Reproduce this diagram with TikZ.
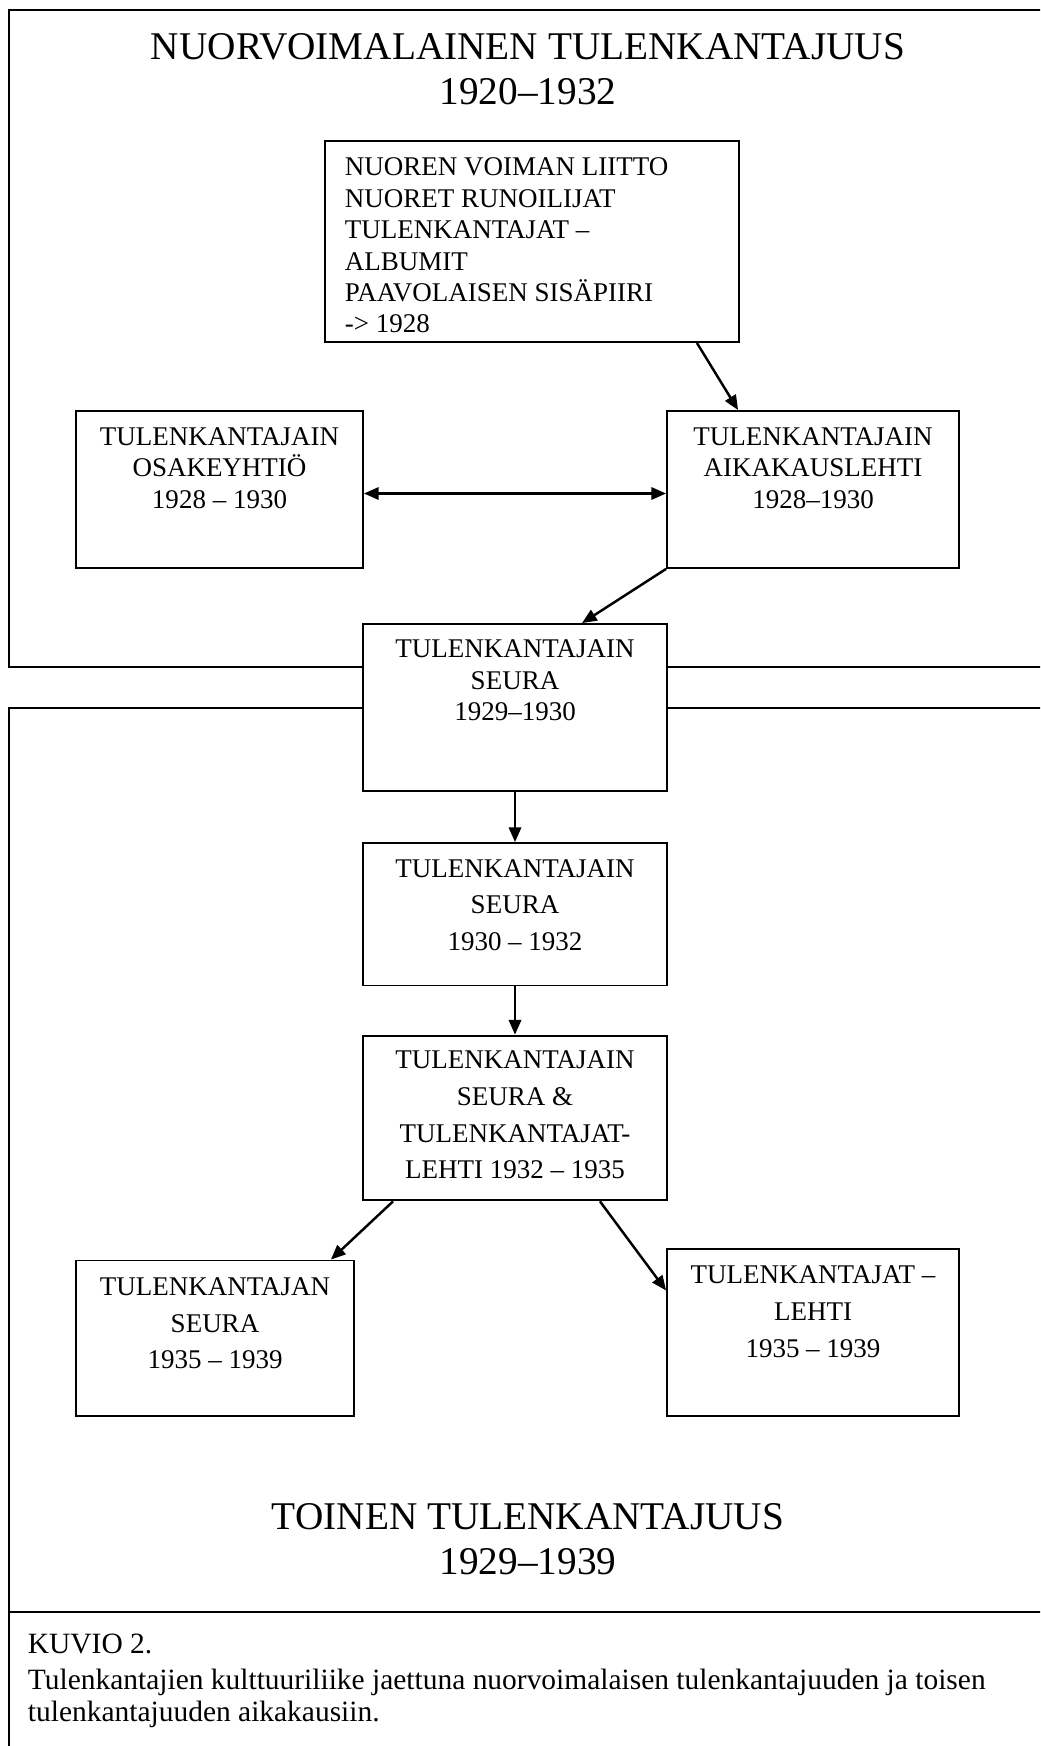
\documentclass[tikz,border=0pt]{standalone}
\usepackage{fontspec}
\setmainfont{Liberation Serif}
\usetikzlibrary{positioning,calc,fit,arrows.meta}

\begin{document}
\begin{tikzpicture}[x=0.4074pt, y=-0.4074pt, line width=0.75pt,
  box/.style={draw, fill=white, inner sep=0pt},
  boxtext/.style={align=center, inner sep=0pt, font=\fontsize{11}{12.8}\selectfont},
  boxtextwide/.style={boxtext, font=\fontsize{11}{14.9}\selectfont},
  bigtitle/.style={align=center, inner sep=0pt, font=\fontsize{16}{18.2}\selectfont},
  tip/.tip={Triangle[length=6pt,width=5pt]},
  conn/.style={line width=1pt, -tip}]
  \useasboundingbox (0,0) rectangle (1040,1746);
  \clip (0,0) rectangle (1040,1746);

  % the two periods
  \draw (9,10) rectangle (1060,667);
  \draw (9,708) rectangle (1060,1760);
  \draw (9,1612) -- (1060,1612);

  \node[bigtitle] (nuor) at (528,69) {NUORVOIMALAINEN TULENKANTAJUUS\\1920–1932};
  \node[bigtitle] (toinen) at (528,1539) {TOINEN TULENKANTAJUUS\\1929–1939};

  % boxes
  \node[box, fit={(325,141) (739,342)}] (liitto) {};
  \node[box, fit={(76,411) (363,568)}] (yhtio) {};
  \node[box, fit={(667,411) (959,568)}] (lehti) {};
  \node[box, fit={(363,624) (667,791)}] (seurai) {};
  \node[box, fit={(363,843) (667,985.5)}] (seuraii) {};
  \node[box, fit={(363,1035.6) (667,1200.4)}] (seuraiii) {};
  \node[box, fit={(76,1260.5) (354,1416.4)}] (seuran) {};
  \node[box, fit={(667,1249.4) (959,1416.4)}] (lehtii) {};

  \node[boxtext, align=left, below right=6.9pt and 8.1pt of liitto.north west, anchor=north west]
    {NUOREN VOIMAN LIITTO\\NUORET RUNOILIJAT\\TULENKANTAJAT –\\ALBUMIT\\PAAVOLAISEN SISÄPIIRI\\-> 1928};
  \node[boxtext, below=6.7pt of yhtio.north] {TULENKANTAJAIN\\OSAKEYHTIÖ\\1928 – 1930};
  \node[boxtext, below=6.7pt of lehti.north] {TULENKANTAJAIN\\AIKAKAUSLEHTI\\1928–1930};
  \node[boxtext, below=6.5pt of seurai.north] {TULENKANTAJAIN\\SEURA\\1929–1930};
  \node[boxtextwide, below=6.7pt of seuraii.north] {TULENKANTAJAIN\\SEURA\\1930 – 1932};
  \node[boxtextwide, below=6.3pt of seuraiii.north] {TULENKANTAJAIN\\SEURA \&\\TULENKANTAJAT-\\LEHTI 1932 – 1935};
  \node[boxtextwide, below=7.1pt of seuran.north] {TULENKANTAJAN\\SEURA\\1935 – 1939};
  \node[boxtextwide, below=6.8pt of lehtii.north] {TULENKANTAJAT –\\LEHTI\\1935 – 1939};

  % connectors
  \draw[conn] ($(liitto.south east)+(-43,0)$) -- ($(lehti.north west)+(72,0)$);
  \draw[conn, tip-tip] ($(yhtio.east)+(0,4)$) -- ($(lehti.west)+(0,4)$);
  \draw[conn] (lehti.south west) -- ($(seurai.north)+(67,0)$);
  \draw[conn] (seurai.south) -- (seuraii.north);
  \draw[conn] (seuraii.south) -- (seuraiii.north);
  \draw[conn] ($(seuraiii.south west)+(31,0)$) -- ($(seuran.north east)+(-24,0)$);
  \draw[conn] ($(seuraiii.south east)+(-68,0)$) -- ($(lehtii.north west)+(0,42)$);

  \node[align=left, inner sep=0pt, anchor=north west, font=\fontsize{12}{13.2}\selectfont] (kuvio) at (27,1633)
    {KUVIO 2.\\[1.5pt]Tulenkantajien kulttuuriliike jaettuna nuorvoimalaisen tulenkantajuuden ja toisen\\tulenkantajuuden aikakausiin.};
\end{tikzpicture}
\end{document}
